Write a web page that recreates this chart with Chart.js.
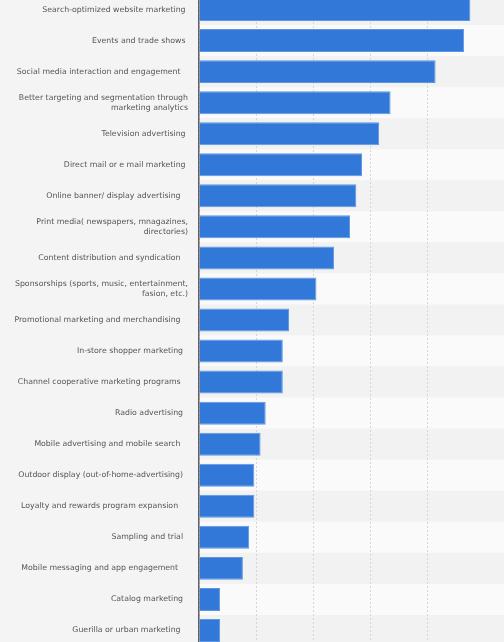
<!DOCTYPE html>
<html>
<head>
<meta charset="utf-8">
<script src="https://cdn.jsdelivr.net/npm/chart.js@4"></script>
<style>
  html, body { margin: 0; padding: 0; background: #f4f4f4; overflow: hidden; }
  .chart-container { position: absolute; left: 0; top: -6px; width: 504px; height: 652px; }
</style>
</head>
<body>
<div class="chart-container">
  <canvas id="channelChart"></canvas>
</div>
<script>
// categories (trailing spaces kept as in the original labels)
const categories = [
  "Search-optimized website marketing ",
  "Events and trade shows ",
  "Social media interaction and engagement   ",
  ["Better targeting and segmentation through", "marketing analytics"],
  "Television advertising ",
  "Direct mail or e mail marketing ",
  "Online banner/ display advertising   ",
  ["Print media( newspapers, mnagazines,", "directories)"],
  "Content distribution and syndication   ",
  ["Sponsorships (sports, music, entertainment,", "fasion, etc.)"],
  "Promotional marketing and merchandising   ",
  "In-store shopper marketing  ",
  "Channel cooperative marketing programs   ",
  "Radio advertising  ",
  "Mobile advertising and mobile search   ",
  "Outdoor display (out-of-home-advertising)  ",
  "Loyalty and rewards program expansion    ",
  "Sampling and trial  ",
  "Mobile messaging and app engagement    ",
  "Catalog marketing  ",
  "Guerilla or urban marketing   "
];

const shares = [47.6, 46.5, 41.5, 33.6, 31.6, 28.6, 27.6, 26.5, 23.7, 20.6,
                15.8, 14.7, 14.7, 11.7, 10.8, 9.7, 9.7, 8.8, 7.7, 3.7, 3.7];

// alternating row stripes behind the grid
const rowBands = {
  id: "rowBands",
  beforeDraw(chart) {
    const { ctx, chartArea } = chart;
    const y = chart.scales.y;
    const step = y.getPixelForValue(1) - y.getPixelForValue(0);
    ctx.save();
    categories.forEach((c, i) => {
      const mid = y.getPixelForValue(i);
      ctx.fillStyle = i % 2 === 0 ? "#f2f2f2" : "#fafafa";
      ctx.fillRect(chartArea.left, mid - step / 2, chartArea.right - chartArea.left, step);
    });
    ctx.restore();
  }
};

const ctx = document.getElementById("channelChart").getContext("2d");
new Chart(ctx, {
  type: "bar",
  data: {
    labels: categories,
    datasets: [{
      data: shares,
      backgroundColor: "#3278d8",
      borderColor: "#5f96e2",
      borderWidth: 1,
      borderSkipped: "left",
      barPercentage: 0.74,
      categoryPercentage: 1
    }]
  },
  options: {
    indexAxis: "y",
    responsive: true,
    maintainAspectRatio: false,
    animation: false,
    layout: { padding: 0 },
    plugins: { legend: { display: false }, tooltip: { enabled: false } },
    scales: {
      x: {
        min: 0,
        max: 53.5,
        ticks: { display: false, stepSize: 10 },
        border: { display: false, dash: [2, 2] },
        grid: { color: "#d6d6d6", lineWidth: 1, drawTicks: false }
      },
      y: {
        afterFit(scale) {
          scale.width = 199;
          scale.paddingTop = 0;
          scale.paddingBottom = 0;
        },
        ticks: {
          color: "#555",
          padding: 11,
          font: { family: "DejaVu Sans", size: 7.8, lineHeight: 1.28 }
        },
        grid: { display: false, drawTicks: false },
        border: { display: true, color: "#606060", width: 1.5 }
      }
    }
  },
  plugins: [rowBands]
});
</script>
</body>
</html>
